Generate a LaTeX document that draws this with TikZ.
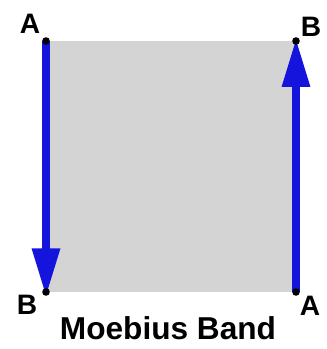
\documentclass[tikz,border=0pt]{standalone}
\usepackage{fontspec}
\setmainfont{Liberation Sans}
\usetikzlibrary{arrows.meta}
\definecolor{bandgray}{RGB}{212,212,212}
\definecolor{edgeblue}{RGB}{20,20,220}

\begin{document}
\begin{tikzpicture}[x=0.03cm,y=-0.03cm,
		edge/.style={edgeblue, line width=0.22cm, -{Triangle[length=1.45cm,width=0.8cm]}},
		corner/.style={font=\fontsize{24}{28}\selectfont\bfseries},
		dot/.style={black}]
			\useasboundingbox (0,0) rectangle (326,349);
			\coordinate (tl) at (46,41);
			\coordinate (tr) at (296,41);
			\coordinate (bl) at (46,292);
			\coordinate (br) at (296,292);
			
			\fill[bandgray] (tl) rectangle (br);
			
			\draw[edge] (tl) -- ([yshift=-4]bl);
			\draw[edge] (br) -- ([yshift=2]tr);
			
			\foreach \c in {tl,tr,bl,br}
				\fill[dot] (\c) circle (3.8);
			
			\node[corner] (la1) at (30,24) {A};
			\node[corner] (lb1) at (311,27) {B};
			\node[corner] (lb2) at (27,305) {B};
			\node[corner] (la2) at (310,306) {A};
			\node[font=\fontsize{27}{32}\selectfont\bfseries] (title) at (168,328) {Moebius Band};
		\end{tikzpicture}
\end{document}
